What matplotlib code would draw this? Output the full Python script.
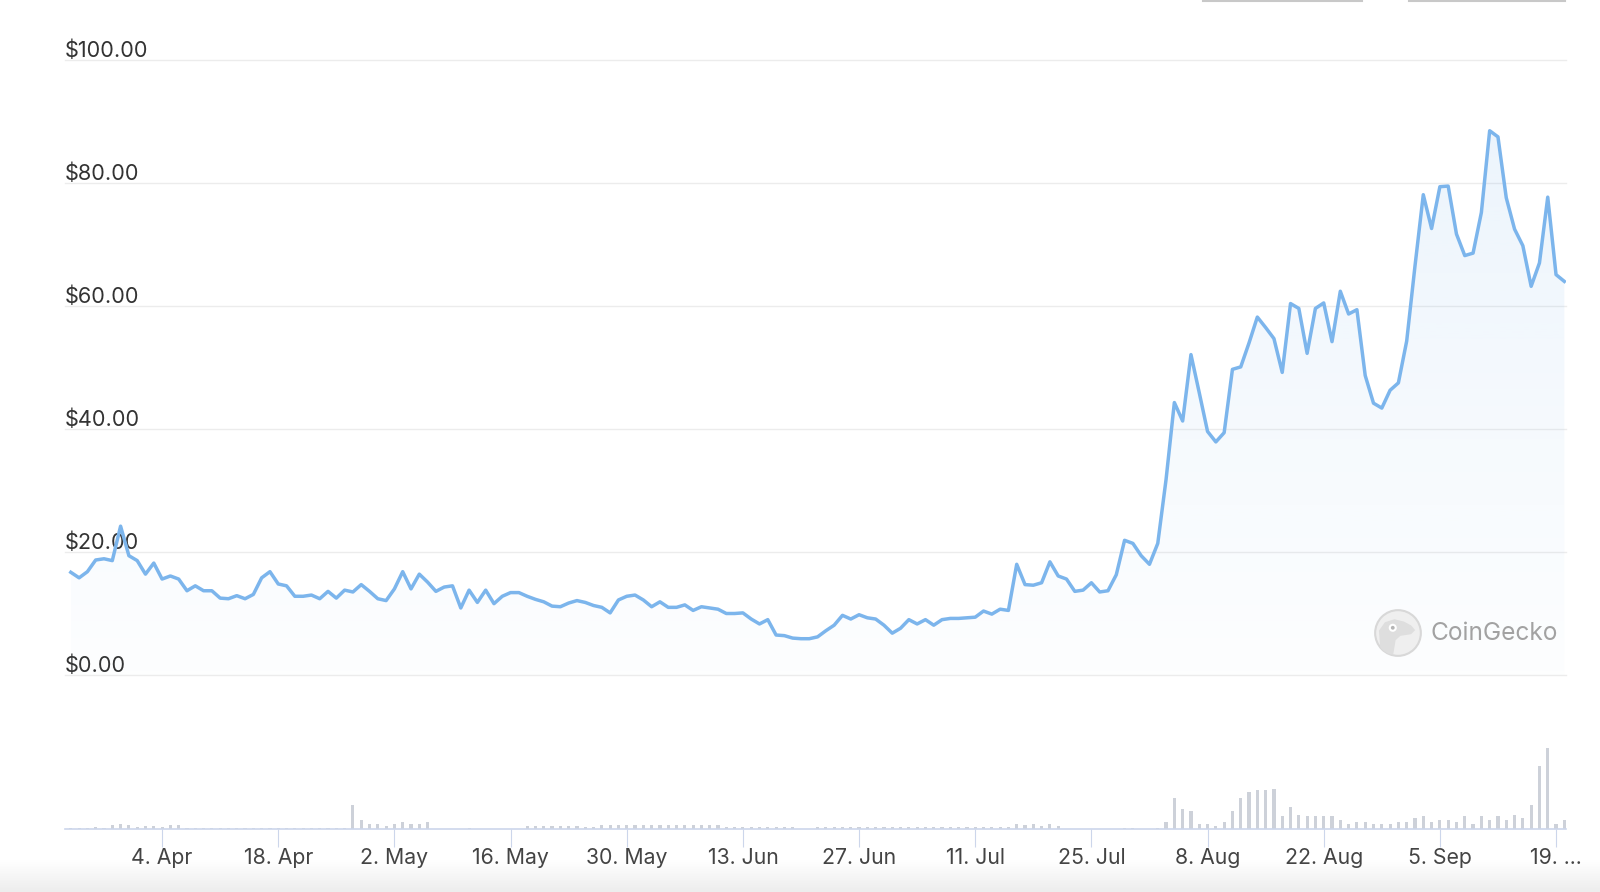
import numpy as np
import pandas as pd
import matplotlib
matplotlib.use('Agg')
import matplotlib.pyplot as plt
import matplotlib.dates as mdates
from matplotlib.patches import Circle, Polygon
from matplotlib.lines import Line2D

plt.rcParams['font.family'] = ['Inter', 'DejaVu Sans']

# daily data
start_date = '2023-03-24'
price_usd = [
    16.7, 15.8, 16.8, 18.7, 18.9, 18.6, 24.2, 19.4, 18.6, 16.4,
    18.2, 15.6, 16.1, 15.6, 13.7, 14.5, 13.7, 13.7, 12.5, 12.4,
    12.9, 12.4, 13.1, 15.8, 16.8, 14.8, 14.5, 12.8, 12.8, 13.0,
    12.4, 13.6, 12.5, 13.8, 13.5, 14.7, 13.6, 12.4, 12.1, 14.0,
    16.8, 14.0, 16.4, 15.1, 13.6, 14.3, 14.5, 10.9, 13.8, 11.8,
    13.8, 11.6, 12.8, 13.4, 13.4, 12.8, 12.3, 11.9, 11.2, 11.1,
    11.7, 12.1, 11.8, 11.3, 11.0, 10.1, 12.2, 12.8, 13.0, 12.2,
    11.1, 11.9, 11.0, 11.0, 11.4, 10.5, 11.1, 10.9, 10.7, 10.0,
    10.0, 10.1, 9.1, 8.3, 9.0, 6.5, 6.4, 6.0, 5.9, 5.9,
    6.2, 7.2, 8.1, 9.7, 9.1, 9.8, 9.3, 9.1, 8.1, 6.8,
    7.6, 9.0, 8.3, 9.0, 8.1, 9.0, 9.2, 9.2, 9.3, 9.4,
    10.4, 9.9, 10.7, 10.5, 18.0, 14.7, 14.6, 15.0, 18.4, 16.1,
    15.6, 13.6, 13.8, 15.0, 13.5, 13.7, 16.3, 21.9, 21.4, 19.4,
    18.0, 21.4, 31.8, 44.3, 41.3, 52.1, 45.9, 39.6, 37.9, 39.4,
    49.7, 50.1, 54.0, 58.2, 56.5, 54.7, 49.2, 60.4, 59.6, 52.3,
    59.6, 60.5, 54.2, 62.4, 58.7, 59.4, 48.7, 44.2, 43.4, 46.3,
    47.5, 54.3, 66.5, 78.1, 72.6, 79.4, 79.5, 71.7, 68.2, 68.6,
    75.2, 88.5, 87.5, 77.6, 72.5, 69.8, 63.2, 67.0, 77.7, 65.1,
    64.0,
]
volume_musd = [
    0.10, 0.10, 0.10, 0.17, 0.10, 0.33, 0.50, 0.33, 0.17, 0.27,
    0.27, 0.17, 0.33, 0.33, 0.10, 0.10, 0.10, 0.10, 0.10, 0.10,
    0.10, 0.10, 0.10, 0.10, 0.10, 0.10, 0.10, 0.10, 0.10, 0.10,
    0.10, 0.10, 0.10, 0.10, 2.33, 0.83, 0.50, 0.43, 0.27, 0.50,
    0.67, 0.50, 0.50, 0.67, 0.00, 0.00, 0.00, 0.00, 0.10, 0.00,
    0.00, 0.00, 0.00, 0.00, 0.00, 0.27, 0.27, 0.27, 0.27, 0.27,
    0.27, 0.27, 0.17, 0.17, 0.33, 0.33, 0.33, 0.33, 0.33, 0.33,
    0.33, 0.33, 0.33, 0.33, 0.33, 0.33, 0.33, 0.33, 0.33, 0.17,
    0.17, 0.17, 0.17, 0.17, 0.17, 0.17, 0.17, 0.17, 0.00, 0.00,
    0.17, 0.17, 0.17, 0.17, 0.17, 0.17, 0.17, 0.17, 0.17, 0.17,
    0.17, 0.17, 0.17, 0.17, 0.17, 0.17, 0.17, 0.17, 0.17, 0.17,
    0.17, 0.17, 0.17, 0.17, 0.50, 0.33, 0.50, 0.27, 0.50, 0.27,
    0.00, 0.00, 0.00, 0.00, 0.00, 0.00, 0.00, 0.10, 0.10, 0.00,
    0.00, 0.10, 0.67, 3.10, 2.00, 1.80, 0.50, 0.50, 0.30, 0.67,
    1.80, 3.10, 3.63, 3.83, 3.83, 4.00, 1.23, 2.13, 1.40, 1.23,
    1.23, 1.23, 1.23, 0.87, 0.50, 0.67, 0.67, 0.50, 0.50, 0.50,
    0.67, 0.67, 1.03, 1.23, 0.67, 0.87, 0.87, 0.67, 1.23, 0.50,
    1.23, 0.87, 1.23, 0.87, 1.40, 1.03, 2.33, 6.23, 8.10, 0.50,
    0.87,
]
y_ticks = [0, 20, 40, 60, 80, 100]
y_labels = ['$0.00', '$20.00', '$40.00', '$60.00', '$80.00', '$100.00']
x_tick_dates = pd.date_range('2023-04-04', '2023-09-19', freq='14D')
x_tick_labels = ['4. Apr', '18. Apr', '2. May', '16. May', '30. May', '13. Jun',
                 '27. Jun', '11. Jul', '25. Jul', '8. Aug', '22. Aug', '5. Sep', '19. ...']

LINE = '#7cb5ec'
GRID = '#ececec'
AXIS = '#ccd6eb'
W, H = 1600, 892

dates = pd.date_range(start_date, periods=len(price_usd), freq='D')
x = mdates.date2num(dates)
price = np.array(price_usd)
x0, x1 = x[0] - 0.7, x[0] + 180.2

fig = plt.figure(figsize=(W / 100, H / 100), dpi=100)

# bottom grey fade
axb = fig.add_axes([0, 0, 1, 32 / H])
fade = np.linspace(1.0, 0.93, 64).reshape(-1, 1)
axb.imshow(np.dstack([fade, fade, fade]), aspect='auto', origin='upper', extent=[0, 1, 0, 1])
axb.axis('off')

# price panel
ax = fig.add_axes([65 / W, (H - 675) / H, 1501 / W, 615 / H])
for v in y_ticks:
    ax.axhline(v, color=GRID, lw=1.0, zorder=0, clip_on=False)
for v, lab in zip(y_ticks, y_labels):
    ax.annotate(lab, xy=(0, v), xycoords=('axes fraction', 'data'), xytext=(0, 3),
                textcoords='offset pixels', ha='left', va='baseline',
                fontsize=15.6, color='#333333', zorder=1)

verts = np.vstack([np.column_stack([x, price]), [[x[-1], 0], [x[0], 0]]])
clip = Polygon(verts, closed=True, transform=ax.transData, facecolor='none', edgecolor='none')
ax.add_patch(clip)
grad = np.zeros((256, 1, 4))
grad[:, :, :3] = matplotlib.colors.to_rgb(LINE)
grad[:, 0, 3] = np.linspace(0.16, 0.015, 256)
im = ax.imshow(grad, aspect='auto', extent=[x[0], x[-1], 0, 100], origin='upper', zorder=1)
im.set_clip_path(clip)

ax.plot(x, price, color=LINE, lw=2.5, solid_joinstyle='round', zorder=3)
ax.set_xlim(x0, x1)
ax.set_ylim(0, 100)
ax.set_xticks([])
ax.set_yticks([])
for s in ax.spines.values():
    s.set_visible(False)
ax.patch.set_alpha(0)

# volume panel
axv = fig.add_axes([65 / W, (H - 828.5) / H, 1501 / W, 100 / H])
axv.bar(x, volume_musd, width=0.38, color='#cdd1d9', zorder=2)
axv.set_xlim(x0, x1)
axv.set_ylim(0, 10)
axv.set_yticks([])
axv.set_xticks(mdates.date2num(x_tick_dates))
axv.set_xticklabels(x_tick_labels, fontsize=15.3, color='#444444')
axv.tick_params(axis='x', length=13, width=0.8, color=AXIS, pad=0.8)
for name, s in axv.spines.items():
    s.set_visible(name == 'bottom')
axv.spines['bottom'].set_color(AXIS)
axv.spines['bottom'].set_linewidth(1.2)
axv.patch.set_alpha(0)

# CoinGecko watermark
axl = fig.add_axes([1373 / W, (H - 658) / H, 50 / W, 50 / H])
axl.set_xlim(-1.05, 1.05)
axl.set_ylim(-1.05, 1.05)
axl.axis('off')
ring = Circle((0, 0), 0.96, facecolor='#efefef', edgecolor='#d8d8d8', lw=1.5)
axl.add_patch(ring)
head = Polygon([(-0.75, -0.6), (-0.8, 0.1), (-0.55, 0.45), (-0.15, 0.58), (0.25, 0.48),
                (0.55, 0.32), (0.72, 0.12), (0.55, -0.05), (0.1, -0.12), (-0.1, -0.3),
                (-0.2, -0.9), (-0.55, -0.9)], closed=True, facecolor='#dedede', edgecolor='none')
axl.add_patch(head)
head.set_clip_path(ring)
axl.add_patch(Circle((-0.22, 0.22), 0.17, facecolor='white', edgecolor='none'))
axl.add_patch(Circle((-0.22, 0.22), 0.08, facecolor='#b5b5b5', edgecolor='none'))
fig.text(1431 / W, (H - 633) / H, 'CoinGecko', fontsize=17.6, color='#a2a2a2',
         ha='left', va='center')

# range button borders at the top edge
fig.add_artist(Line2D([1203 / W, 1362 / W], [1 - 1 / H, 1 - 1 / H], color='#c8c8c8', lw=1.5))
fig.add_artist(Line2D([1409 / W, 1565 / W], [1 - 1 / H, 1 - 1 / H], color='#c8c8c8', lw=1.5))

fig.savefig('out.png', dpi=100, facecolor='white')
